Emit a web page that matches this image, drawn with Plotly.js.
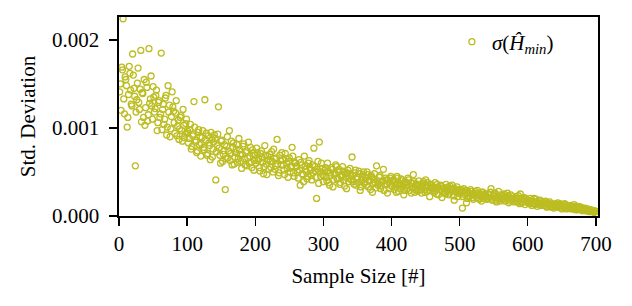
<!DOCTYPE html>
<html>
<head>
<meta charset="utf-8">
<script src="https://cdn.plot.ly/plotly-3.0.1.min.js"></script>
<style>html,body{margin:0;padding:0;background:#fff;}#chart{width:632px;height:306px;}</style>
</head>
<body>
<div id="chart"></div>
<script>
// Sample sizes (x) and standard deviation of the min-entropy estimate (y), even sample sizes
const sampleSizeEven = [
  2,4,6,8,10,12,14,16,18,20,
  22,24,26,28,30,32,34,36,38,40,
  42,44,46,48,50,52,54,56,58,60,
  62,64,66,68,70,72,74,76,78,80,
  82,84,86,88,90,92,94,96,98,100,
  102,104,106,108,110,112,114,116,118,120,
  122,124,126,128,130,132,134,136,138,140,
  142,144,146,148,150,152,154,156,158,160,
  162,164,166,168,170,172,174,176,178,180,
  182,184,186,188,190,192,194,196,198,200,
  202,204,206,208,210,212,214,216,218,220,
  222,224,226,228,230,232,234,236,238,240,
  242,244,246,248,250,252,254,256,258,260,
  262,264,266,268,270,272,274,276,278,280,
  282,284,286,288,290,292,294,296,298,300,
  302,304,306,308,310,312,314,316,318,320,
  322,324,326,328,330,332,334,336,338,340,
  342,344,346,348,350,352,354,356,358,360,
  362,364,366,368,370,372,374,376,378,380,
  382,384,386,388,390,392,394,396,398,400,
  402,404,406,408,410,412,414,416,418,420,
  422,424,426,428,430,432,434,436,438,440,
  442,444,446,448,450,452,454,456,458,460,
  462,464,466,468,470,472,474,476,478,480,
  482,484,486,488,490,492,494,496,498,500,
  502,504,506,508,510,512,514,516,518,520,
  522,524,526,528,530,532,534,536,538,540,
  542,544,546,548,550,552,554,556,558,560,
  562,564,566,568,570,572,574,576,578,580,
  582,584,586,588,590,592,594,596,598,600,
  602,604,606,608,610,612,614,616,618,620,
  622,624,626,628,630,632,634,636,638,640,
  642,644,646,648,650,652,654,656,658,660,
  662,664,666,668,670,672,674,676,678,680,
  682,684,686,688,690,692,694,696,698,700
];
const stdDevEven = [
  0.00150,0.00169,0.00224,0.00116,0.00155,0.00101,0.00138,0.00162,0.00127,0.00184,
  0.00145,0.00057,0.00132,0.00168,0.00121,0.00188,0.00140,0.00112,0.00103,0.00152,
  0.00108,0.00190,0.00133,0.00125,0.00147,0.00118,0.00137,0.00097,0.00129,0.00112,
  0.00185,0.00121,0.00104,0.00134,0.00092,0.00148,0.00126,0.00099,0.00141,0.00119,
  0.00094,0.00131,0.00102,0.00087,0.00112,0.00097,0.00121,0.00089,0.00105,0.00094,
  0.00083,0.00098,0.00076,0.00091,0.00130,0.00084,0.00072,0.00095,0.00081,0.00068,
  0.00089,0.00078,0.00132,0.00094,0.00071,0.00083,0.00064,0.00087,0.00076,0.00092,
  0.00041,0.00080,0.00124,0.00069,0.00085,0.00062,0.00074,0.00030,0.00079,0.00066,
  0.00097,0.00071,0.00058,0.00083,0.00067,0.00076,0.00061,0.00088,0.00070,0.00054,
  0.00079,0.00065,0.00072,0.00057,0.00084,0.00068,0.00061,0.00075,0.00052,0.00069,
  0.00077,0.00063,0.00055,0.00071,0.00066,0.00048,0.00080,0.00059,0.00068,0.00053,
  0.00062,0.00073,0.00050,0.00065,0.00057,0.00087,0.00046,0.00069,0.00058,0.00064,
  0.00052,0.00071,0.00060,0.00044,0.00066,0.00055,0.00078,0.00049,0.00061,0.00057,
  0.00050,0.00064,0.00035,0.00058,0.00047,0.00068,0.00053,0.00042,0.00060,0.00055,
  0.00046,0.00058,0.00077,0.00051,0.00020,0.00062,0.00084,0.00045,0.00054,0.00039,
  0.00052,0.00044,0.00060,0.00038,0.00049,0.00055,0.00033,0.00047,0.00058,0.00042,
  0.00050,0.00036,0.00045,0.00056,0.00040,0.00048,0.00031,0.00052,0.00043,0.00046,
  0.00067,0.00039,0.00049,0.00035,0.00044,0.00051,0.00029,0.00041,0.00047,0.00037,
  0.00043,0.00050,0.00033,0.00040,0.00046,0.00027,0.00042,0.00038,0.00057,0.00035,
  0.00044,0.00031,0.00039,0.00053,0.00036,0.00041,0.00026,0.00038,0.00043,0.00034,
  0.00040,0.00030,0.00036,0.00045,0.00028,0.00037,0.00042,0.00033,0.00024,0.00039,
  0.00035,0.00043,0.00029,0.00038,0.00032,0.00047,0.00027,0.00036,0.00031,0.00040,
  0.00033,0.00026,0.00037,0.00030,0.00041,0.00028,0.00034,0.00022,0.00036,0.00031,
  0.00029,0.00038,0.00025,0.00033,0.00030,0.00035,0.00021,0.00032,0.00027,0.00036,
  0.00030,0.00024,0.00034,0.00028,0.00031,0.00018,0.00029,0.00033,0.00026,0.00030,
  0.00027,0.00009,0.00031,0.00024,0.00015,0.00028,0.00022,0.00030,0.00025,0.00019,
  0.00026,0.00023,0.00029,0.00020,0.00025,0.00017,0.00027,0.00022,0.00024,0.00019,
  0.00025,0.00021,0.00031,0.00018,0.00023,0.00026,0.00016,0.00022,0.00020,0.00024,
  0.00019,0.00023,0.00017,0.00021,0.00026,0.00015,0.00020,0.00018,0.00022,0.00016,
  0.00020,0.00017,0.00023,0.00014,0.00019,0.00016,0.00021,0.00013,0.00018,0.00015,
  0.00016,0.00020,0.00012,0.00017,0.00014,0.00019,0.00011,0.00015,0.00018,0.00013,
  0.00015,0.00012,0.00017,0.00010,0.00014,0.00016,0.00011,0.00013,0.00009,0.00014,
  0.00012,0.00015,0.00010,0.00013,0.00008,0.00011,0.00014,0.00009,0.00012,0.00010,
  0.00011,0.00008,0.00010,0.00013,0.00007,0.00009,0.00011,0.00008,0.00010,0.00006,
  0.00008,0.00009,0.00006,0.00008,0.00005,0.00007,0.00006,0.00005,0.00006,0.00005
];
// Odd sample sizes
const sampleSizeOdd = [
  1,3,5,7,9,11,13,15,17,19,
  21,23,25,27,29,31,33,35,37,39,
  41,43,45,47,49,51,53,55,57,59,
  61,63,65,67,69,71,73,75,77,79,
  81,83,85,87,89,91,93,95,97,99,
  101,103,105,107,109,111,113,115,117,119,
  121,123,125,127,129,131,133,135,137,139,
  141,143,145,147,149,151,153,155,157,159,
  161,163,165,167,169,171,173,175,177,179,
  181,183,185,187,189,191,193,195,197,199,
  201,203,205,207,209,211,213,215,217,219,
  221,223,225,227,229,231,233,235,237,239,
  241,243,245,247,249,251,253,255,257,259,
  261,263,265,267,269,271,273,275,277,279,
  281,283,285,287,289,291,293,295,297,299,
  301,303,305,307,309,311,313,315,317,319,
  321,323,325,327,329,331,333,335,337,339,
  341,343,345,347,349,351,353,355,357,359,
  361,363,365,367,369,371,373,375,377,379,
  381,383,385,387,389,391,393,395,397,399,
  401,403,405,407,409,411,413,415,417,419,
  421,423,425,427,429,431,433,435,437,439,
  441,443,445,447,449,451,453,455,457,459,
  461,463,465,467,469,471,473,475,477,479,
  481,483,485,487,489,491,493,495,497,499,
  501,503,505,507,509,511,513,515,517,519,
  521,523,525,527,529,531,533,535,537,539,
  541,543,545,547,549,551,553,555,557,559,
  561,563,565,567,569,571,573,575,577,579,
  581,583,585,587,589,591,593,595,597,599,
  601,603,605,607,609,611,613,615,617,619,
  621,623,625,627,629,631,633,635,637,639,
  641,643,645,647,649,651,653,655,657,659,
  661,663,665,667,669,671,673,675,677,679,
  681,683,685,687,689,691,693,695,697,699
];
const stdDevOdd = [
  0.00141,0.00120,0.00166,0.00133,0.00158,0.00148,0.00112,0.00170,0.00143,0.00125,
  0.00160,0.00136,0.00118,0.00151,0.00129,0.00144,0.00107,0.00139,0.00155,0.00123,
  0.00146,0.00115,0.00128,0.00159,0.00110,0.00135,0.00122,0.00143,0.00106,0.00131,
  0.00116,0.00098,0.00127,0.00110,0.00137,0.00101,0.00118,0.00090,0.00113,0.00124,
  0.00106,0.00117,0.00091,0.00109,0.00099,0.00114,0.00085,0.00103,0.00093,0.00110,
  0.00096,0.00088,0.00104,0.00079,0.00093,0.00101,0.00086,0.00074,0.00098,0.00090,
  0.00082,0.00097,0.00075,0.00086,0.00069,0.00091,0.00080,0.00095,0.00067,0.00084,
  0.00088,0.00073,0.00093,0.00077,0.00060,0.00086,0.00070,0.00081,0.00065,0.00090,
  0.00074,0.00063,0.00085,0.00078,0.00059,0.00072,0.00081,0.00065,0.00075,0.00062,
  0.00070,0.00082,0.00058,0.00074,0.00066,0.00060,0.00078,0.00055,0.00071,0.00063,
  0.00060,0.00072,0.00065,0.00051,0.00074,0.00061,0.00056,0.00069,0.00047,0.00064,
  0.00070,0.00055,0.00062,0.00076,0.00053,0.00066,0.00059,0.00049,0.00063,0.00072,
  0.00058,0.00047,0.00065,0.00054,0.00062,0.00050,0.00057,0.00068,0.00045,0.00060,
  0.00056,0.00043,0.00052,0.00061,0.00048,0.00039,0.00057,0.00050,0.00045,0.00063,
  0.00052,0.00041,0.00049,0.00056,0.00044,0.00053,0.00037,0.00050,0.00060,0.00047,
  0.00045,0.00055,0.00040,0.00051,0.00035,0.00046,0.00053,0.00041,0.00049,0.00056,
  0.00043,0.00053,0.00038,0.00047,0.00051,0.00034,0.00044,0.00049,0.00039,0.00054,
  0.00041,0.00046,0.00036,0.00052,0.00042,0.00038,0.00048,0.00033,0.00045,0.00050,
  0.00039,0.00035,0.00047,0.00041,0.00030,0.00044,0.00037,0.00048,0.00032,0.00040,
  0.00037,0.00046,0.00034,0.00040,0.00029,0.00043,0.00036,0.00041,0.00031,0.00045,
  0.00034,0.00041,0.00038,0.00027,0.00043,0.00035,0.00031,0.00040,0.00036,0.00029,
  0.00038,0.00031,0.00041,0.00034,0.00026,0.00037,0.00039,0.00030,0.00035,0.00028,
  0.00036,0.00030,0.00034,0.00039,0.00027,0.00033,0.00038,0.00029,0.00032,0.00035,
  0.00033,0.00027,0.00031,0.00036,0.00024,0.00030,0.00034,0.00028,0.00032,0.00025,
  0.00028,0.00033,0.00026,0.00030,0.00035,0.00023,0.00031,0.00027,0.00022,0.00029,
  0.00025,0.00030,0.00022,0.00027,0.00029,0.00020,0.00026,0.00023,0.00028,0.00021,
  0.00024,0.00028,0.00021,0.00026,0.00019,0.00023,0.00027,0.00020,0.00025,0.00022,
  0.00020,0.00024,0.00027,0.00019,0.00022,0.00025,0.00018,0.00021,0.00028,0.00017,
  0.00022,0.00020,0.00025,0.00018,0.00021,0.00023,0.00017,0.00024,0.00019,0.00020,
  0.00018,0.00022,0.00016,0.00020,0.00025,0.00015,0.00019,0.00017,0.00020,0.00016,
  0.00018,0.00014,0.00017,0.00015,0.00020,0.00013,0.00016,0.00014,0.00017,0.00012,
  0.00013,0.00016,0.00014,0.00011,0.00015,0.00012,0.00014,0.00010,0.00013,0.00011,
  0.00013,0.00010,0.00012,0.00014,0.00009,0.00012,0.00010,0.00013,0.00008,0.00011,
  0.00009,0.00012,0.00010,0.00008,0.00011,0.00009,0.00007,0.00010,0.00008,0.00009,
  0.00007,0.00008,0.00006,0.00007,0.00006,0.00005,0.00007,0.00005,0.00004,0.00005
];
const xTicks = [0,100,200,300,400,500,600,700];
const yTicks = [0.000,0.001,0.002];
const yTickLabels = ['0.000','0.001','0.002'];
const seriesName = '<i>σ</i>(<i>Ĥ</i><sub><i>min</i></sub>)';

const font = 'Liberation Serif, Times New Roman, serif';
const trace = {
  x: sampleSizeOdd.concat(sampleSizeEven),
  y: stdDevOdd.concat(stdDevEven),
  type: 'scatter', mode: 'markers', name: seriesName,
  marker: {symbol: 'circle-open', size: 6, color: '#bcbd22', line: {width: 1.3, color: '#bcbd22'}},
  showlegend: true, cliponaxis: true
};
const axisCommon = {
  showgrid: false, zeroline: false, showline: true, linecolor: '#000', linewidth: 1.6,
  mirror: true, ticks: 'outside', ticklen: 8, tickwidth: 1.3, tickcolor: '#000',
  tickfont: {family: font, size: 21, color: '#000'}, automargin: true
};
const layout = {
  width: 632, height: 306,
  margin: {l: 119, r: 34, t: 17, b: 90},
  paper_bgcolor: '#fff', plot_bgcolor: '#fff',
  font: {family: font, color: '#000'},
  xaxis: Object.assign({}, axisCommon, {
    range: [0, 703], tickvals: xTicks, ticklabelstandoff: 0,
    title: {text: 'Sample Size [#]', standoff: 13, font: {family: font, size: 21, color: '#000'}}
  }),
  yaxis: Object.assign({}, axisCommon, {
    range: [0, 0.00226], tickvals: yTicks, ticktext: yTickLabels, ticklabelstandoff: 6,
    title: {text: 'Std. Deviation', standoff: 10, font: {family: font, size: 21, color: '#000'}}
  }),
  legend: {x: 0.695, y: 0.874, xanchor: 'left', yanchor: 'middle', bgcolor: 'rgba(0,0,0,0)',
    font: {family: font, size: 21, color: '#000'}, itemwidth: 30},
  showlegend: true
};
Plotly.newPlot('chart', [trace], layout, {staticPlot: true, displayModeBar: false});
</script>
</body>
</html>
